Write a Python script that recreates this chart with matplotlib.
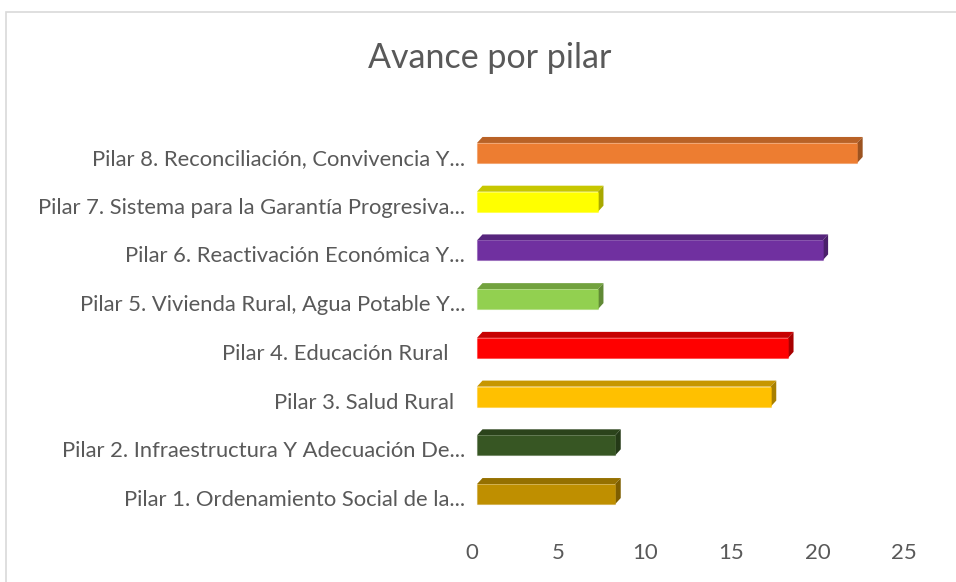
import matplotlib
matplotlib.use("Agg")
import matplotlib.pyplot as plt
import matplotlib.transforms as mtransforms
from matplotlib.patches import Polygon, Rectangle
import matplotlib.colors as mcolors

categories = [
    "Pilar 1. Ordenamiento Social de la...",
    "Pilar 2. Infraestructura Y Adecuación De...",
    "Pilar 3. Salud Rural  ",
    "Pilar 4. Educación Rural   ",
    "Pilar 5. Vivienda Rural, Agua Potable Y...",
    "Pilar 6. Reactivación Económica Y...",
    "Pilar 7. Sistema para la Garantía Progresiva...",
    "Pilar 8. Reconciliación, Convivencia Y...",
]
values = [8, 8, 17, 18, 7, 20, 7, 22]
colors = ["#BF8F00", "#375623", "#FFC000", "#FF0000", "#92D050", "#7030A0", "#FFFF00", "#ED7D31"]
xticks = [0, 5, 10, 15, 20, 25]
title = "Avance por pilar"

W, H = 956, 582
DPI = 100
fig = plt.figure(figsize=(W / DPI, H / DPI), dpi=DPI)
plt.rcParams['font.family'] = ['Lato', 'DejaVu Sans']

# axes placement (pixels)
ax_left, ax_right = 472, 904
ax_top, ax_bottom = 128.6, 518.4
ax = fig.add_axes([ax_left / W, 1 - ax_bottom / H, (ax_right - ax_left) / W, (ax_bottom - ax_top) / H])
ax.set_xlim(0, 25)
ax.set_ylim(-0.5, len(categories) - 0.5)

for s in ax.spines.values():
    s.set_visible(False)

px_per_x = (ax_right - ax_left) / 25.0
px_per_y = (ax_bottom - ax_top) / len(categories)
depth_dx = 5.5 / px_per_x
depth_dy = 6.0 / px_per_y
bar_h = 20.0 / px_per_y

shift = ax.transData + mtransforms.ScaledTranslation(5 / DPI, 0, fig.dpi_scale_trans)

def shade(c, f):
    r, g, b = mcolors.to_rgb(c)
    return (r * f, g * f, b * f)

for i, (v, c) in enumerate(zip(values, colors)):
    top = i + bar_h / 2
    bot = i - bar_h / 2
    # top face
    ax.add_patch(Polygon([(0, top), (v, top), (v + depth_dx, top + depth_dy), (depth_dx, top + depth_dy)],
                         closed=True, facecolor=shade(c, 0.78), edgecolor='none', transform=shift))
    # side face
    ax.add_patch(Polygon([(v, bot), (v + depth_dx, bot + depth_dy), (v + depth_dx, top + depth_dy), (v, top)],
                         closed=True, facecolor=shade(c, 0.66), edgecolor='none', transform=shift))
    # front face
    ax.barh(i, v, height=bar_h, color=c, edgecolor=mcolors.to_rgba(c, 0.35), linewidth=0.8, transform=shift)

ax.set_xlim(0, 25)
ax.set_ylim(-0.5, len(categories) - 0.5)
ax.set_xticks(xticks)
ax.set_xticklabels([str(t) for t in xticks])
ax.set_yticks(range(len(categories)))
ax.set_yticklabels(categories)
ax.tick_params(axis='both', length=0, colors='#595959')
ax.tick_params(axis='y', pad=5, labelsize=15.8)
ax.tick_params(axis='x', pad=18, labelsize=16)
yoff = mtransforms.ScaledTranslation(0, -4 / DPI, fig.dpi_scale_trans)
for lbl in ax.get_yticklabels():
    lbl.set_transform(lbl.get_transform() + yoff)

fig.text(490 / W, 1 - 58 / H, title, ha='center', va='center', fontsize=24.5, color='#595959')

# chart frame
fig.add_artist(Rectangle((5.5 / W, -0.1), 1.2, 1 - 11.5 / H + 0.1, transform=fig.transFigure,
                         fill=False, edgecolor='#D9D9D9', linewidth=1.2))

fig.savefig("out.png", dpi=DPI)
